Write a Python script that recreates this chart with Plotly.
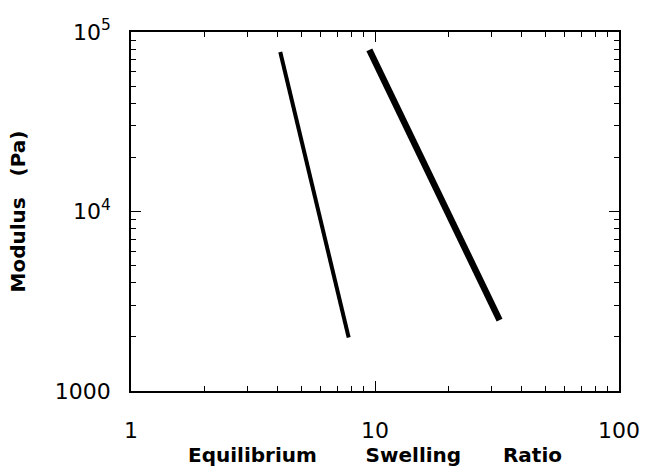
import plotly.graph_objects as go

# Data (log-log)
line1_x = [4.09, 7.80]
line1_y = [77400, 1985]
line2_x = [9.48, 32.4]
line2_y = [79600, 2480]

x_tickvals = [1, 10, 100]
x_ticktext = ["1", "10", "100"]
y_tickvals = [1000, 10000, 100000]
y_ticktext = ["1000", "10<sup>4</sup>", "10<sup>5</sup>"]

x_minor = [m * d for d in (1, 10) for m in range(2, 10)]
y_minor = [m * d for d in (1000, 10000) for m in range(2, 10)]

fig = go.Figure()
fig.add_trace(go.Scatter(x=line1_x, y=line1_y, mode="lines",
                         line=dict(color="black", width=4), showlegend=False))
fig.add_trace(go.Scatter(x=line2_x, y=line2_y, mode="lines",
                         line=dict(color="black", width=6.5), showlegend=False))
# invisible trace to anchor the minor-tick overlay axes
fig.add_trace(go.Scatter(x=[1, 100], y=[1000, 100000], mode="markers",
                         marker=dict(opacity=0), xaxis="x2", yaxis="y2",
                         showlegend=False, hoverinfo="skip"))

tickfont = dict(family="DejaVu Sans", size=22, color="black")
titlefont = dict(family="DejaVu Sans", size=20, color="black", weight="bold")
nb = "\u00a0"

common = dict(type="log", ticks="inside", tickcolor="black", showgrid=False, zeroline=False,
              showline=True, linecolor="black", linewidth=1.5, mirror="ticks")

fig.update_layout(
    xaxis=dict(**common, range=[0, 2], tickvals=x_tickvals, ticktext=x_ticktext,
               ticklen=10, tickwidth=1.3, tickfont=tickfont, ticklabelstandoff=19,
               title=dict(text="Equilibrium" + nb * 7 + "Swelling" + nb * 6 + "Ratio",
                          font=titlefont, standoff=0)),
    yaxis=dict(**common, range=[3, 5], tickvals=y_tickvals, ticktext=y_ticktext,
               ticklen=10, tickwidth=1.3, tickfont=tickfont, ticklabelstandoff=14,
               title=dict(text="Modulus" + nb * 3 + "(Pa)", font=titlefont, standoff=24)),
    xaxis2=dict(**common, range=[0, 2], overlaying="x", anchor="y2", side="bottom",
                tickvals=x_minor, ticklen=5, tickwidth=1, showticklabels=False),
    yaxis2=dict(**common, range=[3, 5], overlaying="y", anchor="x2", side="left",
                tickvals=y_minor, ticklen=5, tickwidth=1, showticklabels=False),
    width=652, height=469, margin=dict(l=131, r=25, t=32, b=72),
    plot_bgcolor="white", paper_bgcolor="white")
fig.write_html("out.html")
